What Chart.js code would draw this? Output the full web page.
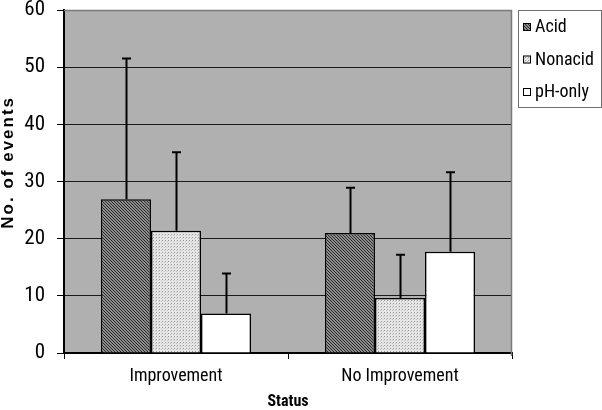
<!DOCTYPE html>
<html><head><meta charset="utf-8">
<script src="https://cdn.jsdelivr.net/npm/chart.js@4"></script>
<style>html,body{margin:0;padding:0;background:#fff}#wrap{width:602px;height:410px}</style>
</head><body><div id="wrap"><canvas id="c" width="602" height="410"></canvas></div>
<script>
const categories = ['Improvement', 'No Improvement'];
const seriesNames = ['Acid', 'Nonacid', 'pH-only'];
const acidValues = [26.9, 21.0];
const nonacidValues = [21.4, 9.6];
const phOnlyValues = [6.9, 17.7];
const acidErrors = [24.6, 7.9];
const nonacidErrors = [13.7, 7.6];
const phOnlyErrors = [7.0, 13.9];
const yTicks = [0, 10, 20, 30, 40, 50, 60];
const xTitle = 'Status';
const yTitle = 'No. of events';

const COND = "'Roboto Condensed', 'Liberation Sans', Arial, sans-serif";
const SANS = "'Liberation Sans', Arial, sans-serif";

function makePattern(size, fn) {
  const c = document.createElement('canvas');
  c.width = size; c.height = size;
  const g = c.getContext('2d');
  for (let y = 0; y < size; y++) for (let x = 0; x < size; x++) {
    g.fillStyle = fn(x, y); g.fillRect(x, y, 1, 1);
  }
  return g.createPattern(c, 'repeat');
}
const ctx = document.getElementById('c').getContext('2d');
const acidFill = makePattern(3, (x, y) => ((x - y + 6) % 3 === 0) ? '#262626' : '#8e8e8e');
const nonacidFill = makePattern(3, (x, y) => (x === 0 && y === 0) ? '#9a9a9a' : ((x === 2 && y === 1) ? '#c4c4c4' : '#e6e6e6'));
const phFill = '#ffffff';

const errorSets = [acidErrors, nonacidErrors, phOnlyErrors];

const decorPlugin = {
  id: 'decor',
  beforeDraw(chart) {
    const c = chart.ctx, a = chart.chartArea;
    c.save();
    c.fillStyle = '#fff'; c.fillRect(0, 0, chart.width, chart.height);
    c.fillStyle = '#b0b0b0'; c.fillRect(a.left, a.top, a.right - a.left, a.bottom - a.top);
    c.restore();
  },
  beforeDatasetsDraw(chart) {
    const c = chart.ctx, a = chart.chartArea;
    c.save();
    c.strokeStyle = '#7a7a7a'; c.lineWidth = 1.5;
    c.beginPath();
    c.moveTo(a.left, a.top + 0.5); c.lineTo(a.right - 0.5, a.top + 0.5);
    c.lineTo(a.right - 0.5, a.bottom + 3);
    c.stroke();
    c.restore();
  },
  afterDatasetsDraw(chart) {
    const c = chart.ctx, ys = chart.scales.y;
    c.save();
    c.strokeStyle = '#000'; c.lineWidth = 2;
    chart.data.datasets.forEach((ds, di) => {
      const meta = chart.getDatasetMeta(di);
      meta.data.forEach((bar, i) => {
        const v = ds.data[i], e = errorSets[di][i];
        const yTop = ys.getPixelForValue(v + e);
        const yBar = ys.getPixelForValue(v);
        const x = Math.round(bar.x) + 0.5;
        c.beginPath();
        c.moveTo(x, yBar); c.lineTo(x, yTop);
        c.moveTo(x - 4.5, yTop); c.lineTo(x + 4.5, yTop);
        c.stroke();
      });
    });
    c.restore();
  },
  afterDraw(chart) {
    const c = chart.ctx, a = chart.chartArea;
    // y-axis title
    c.save();
    c.translate(8, a.top + (a.bottom - a.top) * 0.447);
    c.rotate(-Math.PI / 2);
    c.font = 'bold 17px ' + SANS;
    try { c.letterSpacing = '2px'; } catch (e) {}
    c.fillStyle = '#000'; c.textAlign = 'center'; c.textBaseline = 'middle';
    c.fillText(yTitle, 1, 0);
    c.restore();
    // legend
    const lx = a.right + 6, ly = a.top, lw = 83, lh = 97;
    c.save();
    c.fillStyle = '#fff'; c.fillRect(lx, ly, lw, lh);
    c.strokeStyle = '#707070'; c.lineWidth = 1;
    c.strokeRect(lx + 0.5, ly + 0.5, lw, lh);
    c.font = '18px ' + COND; c.textBaseline = 'alphabetic'; c.textAlign = 'left';
    chart.data.datasets.forEach((ds, i) => {
      const base = ly + 22 + i * 32.5;
      c.fillStyle = ds.backgroundColor;
      c.fillRect(lx + 5, base - 9, 8, 8);
      c.strokeStyle = '#000'; c.strokeRect(lx + 5.5, base - 8.5, 7, 7);
      c.fillStyle = '#000';
      c.fillText(ds.label, lx + 17, base);
    });
    c.restore();
  }
};

new Chart(ctx, {
  type: 'bar',
  data: {
    labels: categories,
    datasets: [
      { label: seriesNames[0], data: acidValues, backgroundColor: acidFill },
      { label: seriesNames[1], data: nonacidValues, backgroundColor: nonacidFill },
      { label: seriesNames[2], data: phOnlyValues, backgroundColor: phFill }
    ].map(d => Object.assign(d, { borderColor: '#000', borderWidth: 1.5, barPercentage: 1.0, categoryPercentage: 0.67 }))
  },
  options: {
    responsive: false,
    animation: false,
    devicePixelRatio: 1,
    layout: { padding: { top: 10, right: 90, left: 0, bottom: 0 } },
    plugins: { legend: { display: false }, tooltip: { enabled: false } },
    scales: {
      x: {
        ticks: { color: '#000', font: { size: 18, family: COND }, padding: 7 },
        grid: { display: true, drawOnChartArea: false, drawTicks: true, tickLength: 6, color: '#000', tickColor: '#000', offset: true },
        border: { color: '#000', width: 2 },
        title: { display: true, text: xTitle, color: '#000', font: { size: 16, weight: 'bold', family: COND, lineHeight: 1 }, padding: { top: 0, bottom: 0 } },
        afterFit: s => { s.height = 57; s.paddingLeft = 0; s.paddingRight = 0; }
      },
      y: {
        min: yTicks[0], max: yTicks[yTicks.length - 1],
        afterBuildTicks: s => { s.ticks = yTicks.map(v => ({ value: v })); },
        ticks: { color: '#000', font: { size: 21, family: COND, lineHeight: 1 }, padding: 12 },
        grid: { color: c => (c.tick && c.tick.value === 60) ? '#7a7a7a' : '#1a1a1a', lineWidth: 1, tickLength: 7, drawTicks: true, tickColor: '#000' },
        border: { color: '#000', width: 2 },
        title: { display: false },
        afterFit: s => { s.width = 64; s.paddingTop = 0; s.paddingBottom = 0; }
      }
    }
  },
  plugins: [decorPlugin]
});
</script>
</body></html>
